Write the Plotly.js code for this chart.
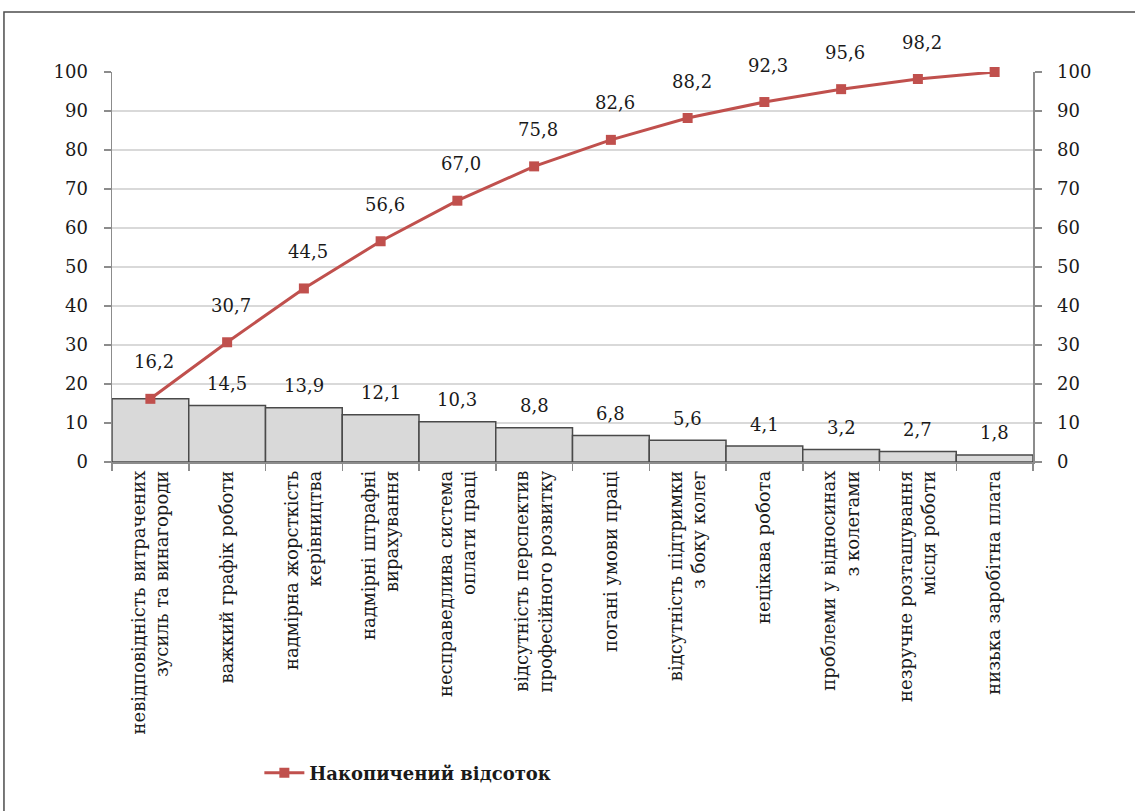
<!DOCTYPE html>
<html>
<head>
<meta charset="utf-8">
<script src="https://cdn.plot.ly/plotly-3.0.1.min.js"></script>
<style>html,body{margin:0;padding:0;background:#fff;}#chart{width:1135px;height:811px;}</style>
</head>
<body>
<div id="chart"></div>
<script>
var categories = [
  "невідповідність витрачених<br>зусиль та винагороди",
  "важкий графік роботи",
  "надмірна жорсткість<br>керівництва",
  "надмірні штрафні<br>вирахування",
  "несправедлива система<br>оплати праці",
  "відсутність перспектив<br>професійного розвитку",
  "погані умови праці",
  "відсутність підтримки<br>з боку колег",
  "нецікава робота",
  "проблеми у відносинах<br>з колегами",
  "незручне розташування<br>місця роботи",
  "низька заробітна плата"
];
var shares = [16.2, 14.5, 13.9, 12.1, 10.3, 8.8, 6.8, 5.6, 4.1, 3.2, 2.7, 1.8];
var cumulative = [16.2, 30.7, 44.5, 56.6, 67.0, 75.8, 82.6, 88.2, 92.3, 95.6, 98.2, 100];
var seriesName = "Накопичений відсоток";
var tickValues = [0, 10, 20, 30, 40, 50, 60, 70, 80, 90, 100];

function fmt(v) { return v.toFixed(1).replace('.', ','); }

var FONT = 'DejaVu Serif';
var FS = 18;

var barTrace = {
  type: 'bar', x: categories, y: shares, width: 1,
  marker: {color: '#d9d9d9', line: {color: '#4a4a4a', width: 1.5}},
  showlegend: false, hoverinfo: 'x+y'
};
var lineTrace = {
  type: 'scatter', mode: 'lines+markers', x: categories, y: cumulative,
  yaxis: 'y2', name: seriesName, cliponaxis: false,
  line: {color: '#c0504d', width: 3},
  marker: {symbol: 'square', size: 10, color: '#c0504d'}
};

var annotations = [];
for (var i = 1; i < shares.length; i++) {
  annotations.push({x: categories[i], y: shares[i], xref: 'x', yref: 'y', text: fmt(shares[i]),
    showarrow: false, yshift: 22, font: {family: FONT, size: FS, color: '#1a1a1a'}});
}
for (var j = 0; j < cumulative.length - 1; j++) {
  annotations.push({x: categories[j], y: cumulative[j], xref: 'x', yref: 'y2', text: fmt(cumulative[j]),
    showarrow: false, yshift: 37, xshift: 4, font: {family: FONT, size: FS, color: '#1a1a1a'}});
}

var axisCommon = {
  range: [0, 100], tickvals: tickValues, ticktext: tickValues.map(String),
  showline: true, linecolor: '#8c8c8c', linewidth: 1.5,
  ticks: 'outside', ticklen: 7, tickcolor: '#8c8c8c', tickwidth: 1.5,
  tickfont: {family: FONT, size: FS, color: '#1a1a1a'}, zeroline: false
};

var layout = {
  width: 1135, height: 811,
  font: {family: FONT},
  margin: {l: 112, r: 102, t: 72, b: 349},
  paper_bgcolor: '#ffffff', plot_bgcolor: '#ffffff',
  bargap: 0,
  xaxis: {
    type: 'category', range: [-0.5, 11.5], tickson: 'boundaries',
    ticks: 'outside', ticklen: 7, tickcolor: '#8c8c8c', tickwidth: 1.5,
    showline: true, linecolor: '#8c8c8c', linewidth: 1.5, showgrid: false,
    tickangle: -90, tickfont: {family: FONT, size: FS, color: '#1a1a1a'}
  },
  yaxis: Object.assign({}, axisCommon, {showgrid: true, gridcolor: '#d9d9d9', gridwidth: 1.5, ticklabelstandoff: 12}),
  yaxis2: Object.assign({}, axisCommon, {overlaying: 'y', side: 'right', showgrid: false, ticklabelstandoff: 12}),
  showlegend: true,
  legend: {
    orientation: 'h', x: 0.16, xanchor: 'left', y: -0.75, yanchor: 'top',
    font: {family: FONT, size: FS, color: '#1a1a1a', weight: 'bold'},
    itemwidth: 40
  },
  annotations: annotations,
  shapes: [{
    type: 'rect', xref: 'paper', yref: 'paper',
    x0: -0.1173, x1: 1.12, y0: -0.9, y1: 1.1538,
    line: {color: '#4d4d4d', width: 1.5}, fillcolor: 'rgba(0,0,0,0)', layer: 'below'
  }]
};

Plotly.newPlot('chart', [barTrace, lineTrace], layout, {displayModeBar: false, staticPlot: true});
</script>
</body>
</html>
